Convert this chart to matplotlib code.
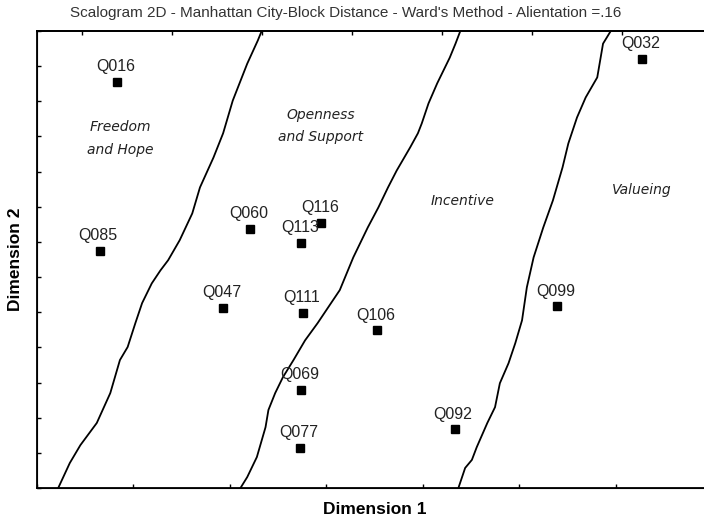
import numpy as np
import matplotlib
matplotlib.use("Agg")
import matplotlib.pyplot as plt

plt.rcParams["font.family"] = ["Liberation Sans", "DejaVu Sans"]

# item coordinates in the 2D scalogram
items = ["Q016", "Q060", "Q116", "Q113", "Q085", "Q032", "Q047",
         "Q111", "Q069", "Q077", "Q106", "Q092", "Q099"]
dim1 = [0.83, 2.21, 2.95, 2.74, 0.65, 6.27, 1.93,
        2.76, 2.74, 2.73, 3.53, 4.33, 5.39]
dim2 = [11.56, 7.37, 7.55, 6.98, 6.74, 12.20, 5.12,
        4.99, 2.80, 1.14, 4.49, 1.67, 5.17]

# hand drawn region borders (dimension 1, dimension 2)
border1_x = [2.33, 2.29, 2.18, 2.03, 1.93, 1.83, 1.69, 1.61, 1.48, 1.36, 1.28,
             1.19, 1.09, 1.02, 0.94, 0.86, 0.76, 0.62, 0.45, 0.34, 0.22]
border1_y = [13.0, 12.73, 12.07, 11.02, 10.09, 9.40, 8.55, 7.81, 7.05, 6.48, 6.19,
             5.82, 5.26, 4.69, 4.01, 3.64, 2.70, 1.85, 1.22, 0.71, 0.0]
border2_x = [4.39, 4.34, 4.28, 4.15, 4.06, 3.99, 3.95, 3.87, 3.73, 3.64, 3.54, 3.43,
             3.28, 3.14, 3.02, 2.91, 2.78, 2.66, 2.55, 2.47, 2.40, 2.37, 2.28, 2.18, 2.11]
border2_y = [13.0, 12.64, 12.24, 11.51, 10.94, 10.37, 10.09, 9.69, 9.03, 8.55, 7.98, 7.41,
             6.56, 5.63, 5.14, 4.69, 4.20, 3.64, 3.15, 2.70, 2.22, 1.73, 0.88, 0.31, 0.0]
border3_x = [5.95, 5.87, 5.81, 5.69, 5.60, 5.51, 5.45, 5.35, 5.25, 5.15, 5.08,
             5.03, 4.96, 4.89, 4.80, 4.75, 4.67, 4.56, 4.51, 4.44, 4.37]
border3_y = [13.0, 12.64, 11.68, 11.11, 10.54, 9.80, 9.12, 8.18, 7.41, 6.56, 5.71,
             4.77, 4.12, 3.55, 2.98, 2.30, 1.85, 1.16, 0.80, 0.57, 0.0]

regions = ["Freedom\nand Hope", "Openness\nand Support", "Incentive", "Valueing"]
region_x = [0.86, 2.94, 4.41, 6.27]
region_y = [9.94, 10.30, 8.15, 8.47]

fig = plt.figure(figsize=(7.04, 5.18), dpi=100)
ax = fig.add_axes([37 / 704, 30 / 518, 675 / 704, 457 / 518])
ax.set_xlim(0, 7)
ax.set_ylim(0, 13)

for bx, by in [(border1_x, border1_y), (border2_x, border2_y), (border3_x, border3_y)]:
    ax.plot(bx, by, color="black", lw=1.3, clip_on=True)

ax.plot(dim1, dim2, "s", color="black", markersize=6, linestyle="none")
for name, x, y in zip(items, dim1, dim2):
    ax.annotate(name, (x, y), xytext=(-1, 5.5), textcoords="offset points",
                ha="center", va="bottom", fontsize=11.5, color="#222222")

for name, x, y in zip(regions, region_x, region_y):
    ax.text(x, y, name, ha="center", va="center", fontsize=10, style="italic",
            family="DejaVu Sans", color="#222222", linespacing=1.75)

ax.set_xticks(np.arange(0, 8, 1))
ax.set_yticks(np.arange(0, 14, 1))
ax.tick_params(direction="in", length=3, width=1, labelbottom=False, labelleft=False)
for side in ["left", "bottom", "top"]:
    ax.spines[side].set_linewidth(1.3)
ax.spines["right"].set_visible(False)

top = ax.twiny()
top.set_xlim(ax.get_xlim())
top.set_xticks(np.arange(0.467, 7, 0.934))
top.tick_params(direction="in", length=3, width=1, labeltop=False)
top.spines["top"].set_linewidth(1.3)
top.spines["right"].set_visible(False)

ax.set_xlabel("Dimension 1", fontsize=12.5, fontweight="bold", labelpad=10)
ax.set_ylabel("Dimension 2", fontsize=12.5, fontweight="bold", labelpad=10)

fig.text(346 / 704, 1 - 13 / 518,
         "Scalogram 2D - Manhattan City-Block Distance - Ward's Method - Alientation =.16",
         ha="center", va="center", fontsize=11, color="#333333")

fig.savefig("out.png", dpi=100)
